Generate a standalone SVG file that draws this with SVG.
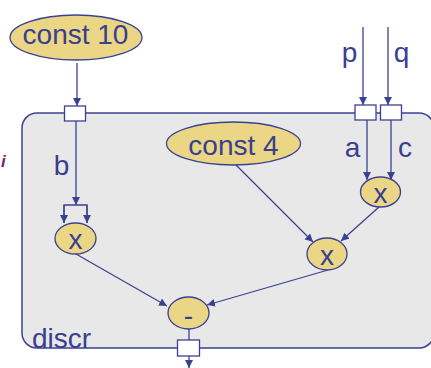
<svg xmlns="http://www.w3.org/2000/svg" width="431" height="368" viewBox="0 0 431 368">
<defs>
<style>
.box{fill:#e8e8e8;stroke:#3b4192;stroke-width:1.5}
.op{fill:#ebd685;stroke:#3b4192;stroke-width:1.3}
.port{fill:#ffffff;stroke:#3b4192;stroke-width:1.3}
.t{font-family:"Liberation Sans",Arial,sans-serif;font-size:28px;fill:#38408f;text-anchor:middle}
.e{stroke:#3b4192;stroke-width:1.3;fill:none}
.a{marker-end:url(#ah)}
</style>
<marker id="ah" markerUnits="userSpaceOnUse" markerWidth="9" markerHeight="9" refX="8" refY="4" orient="auto">
<path d="M0,0 L8,4 L0,8 z" fill="#3b4192"/>
</marker>
</defs>
<g id="discr">
<rect class="box" x="22" y="113" width="412" height="235" rx="15"/>
<text class="t" x="32" y="348" style="text-anchor:start">discr</text>
</g>
<text x="1" y="167" style="font-family:'Liberation Sans',Arial,sans-serif;font-size:17px;font-weight:bold;font-style:italic;fill:#7b1f7b">i</text>
<g id="connectors">
<line class="e a" x1="77" y1="63" x2="77" y2="106"/>
<line class="e a" x1="76" y1="121" x2="76" y2="205"/>
<polyline class="e" points="64,223 64,205 87,205 87,223"/>
<line class="e a" x1="64" y1="205" x2="64" y2="223"/>
<line class="e a" x1="87" y1="205" x2="87" y2="223"/>
<line class="e a" x1="363" y1="27" x2="363" y2="105"/>
<line class="e a" x1="388" y1="27" x2="388" y2="105"/>
<line class="e a" x1="367" y1="120" x2="367" y2="180"/>
<line class="e a" x1="391" y1="120" x2="391" y2="180"/>
<line class="e a" x1="236" y1="165" x2="313" y2="242"/>
<line class="e a" x1="379" y1="207" x2="341" y2="241"/>
<line class="e a" x1="76" y1="254" x2="167" y2="306"/>
<line class="e a" x1="328" y1="270" x2="207" y2="305"/>
<line class="e" x1="189" y1="329" x2="189" y2="340"/>
<line class="e a" x1="189" y1="356" x2="189" y2="368"/>
</g>
<g id="const10">
<ellipse class="op" cx="76" cy="37.5" rx="66" ry="22.5"/>
<text class="t" x="75.5" y="44">const 10</text>
</g>
<g id="const4">
<ellipse class="op" cx="233.5" cy="143.5" rx="67" ry="21.5"/>
<text class="t" x="233.5" y="155">const 4</text>
</g>
<g id="port_b">
<rect class="port" x="64.5" y="106" width="21" height="15"/>
<text class="t" x="61.5" y="175">b</text>
</g>
<g id="port_a">
<rect class="port" x="355" y="105" width="21" height="15"/>
<text class="t" x="349.5" y="62">p</text>
<text class="t" x="352.5" y="157">a</text>
</g>
<g id="port_c">
<rect class="port" x="380.5" y="105" width="21" height="15"/>
<text class="t" x="401.5" y="62">q</text>
<text class="t" x="405" y="157">c</text>
</g>
<g id="mul1">
<ellipse class="op" cx="75.5" cy="238.5" rx="20.5" ry="15.5"/>
<text class="t" x="75.5" y="249">x</text>
</g>
<g id="mul3">
<ellipse class="op" cx="380.5" cy="192" rx="20" ry="15"/>
<text class="t" x="380.5" y="203">x</text>
</g>
<g id="mul2">
<ellipse class="op" cx="327" cy="254" rx="20" ry="16"/>
<text class="t" x="327" y="265">x</text>
</g>
<g id="minus">
<ellipse class="op" cx="188.5" cy="313" rx="20.5" ry="16"/>
<text class="t" x="188.5" y="325">-</text>
</g>
<g id="port_out">
<rect class="port" x="177.5" y="340" width="22" height="16"/>
</g>
</svg>
